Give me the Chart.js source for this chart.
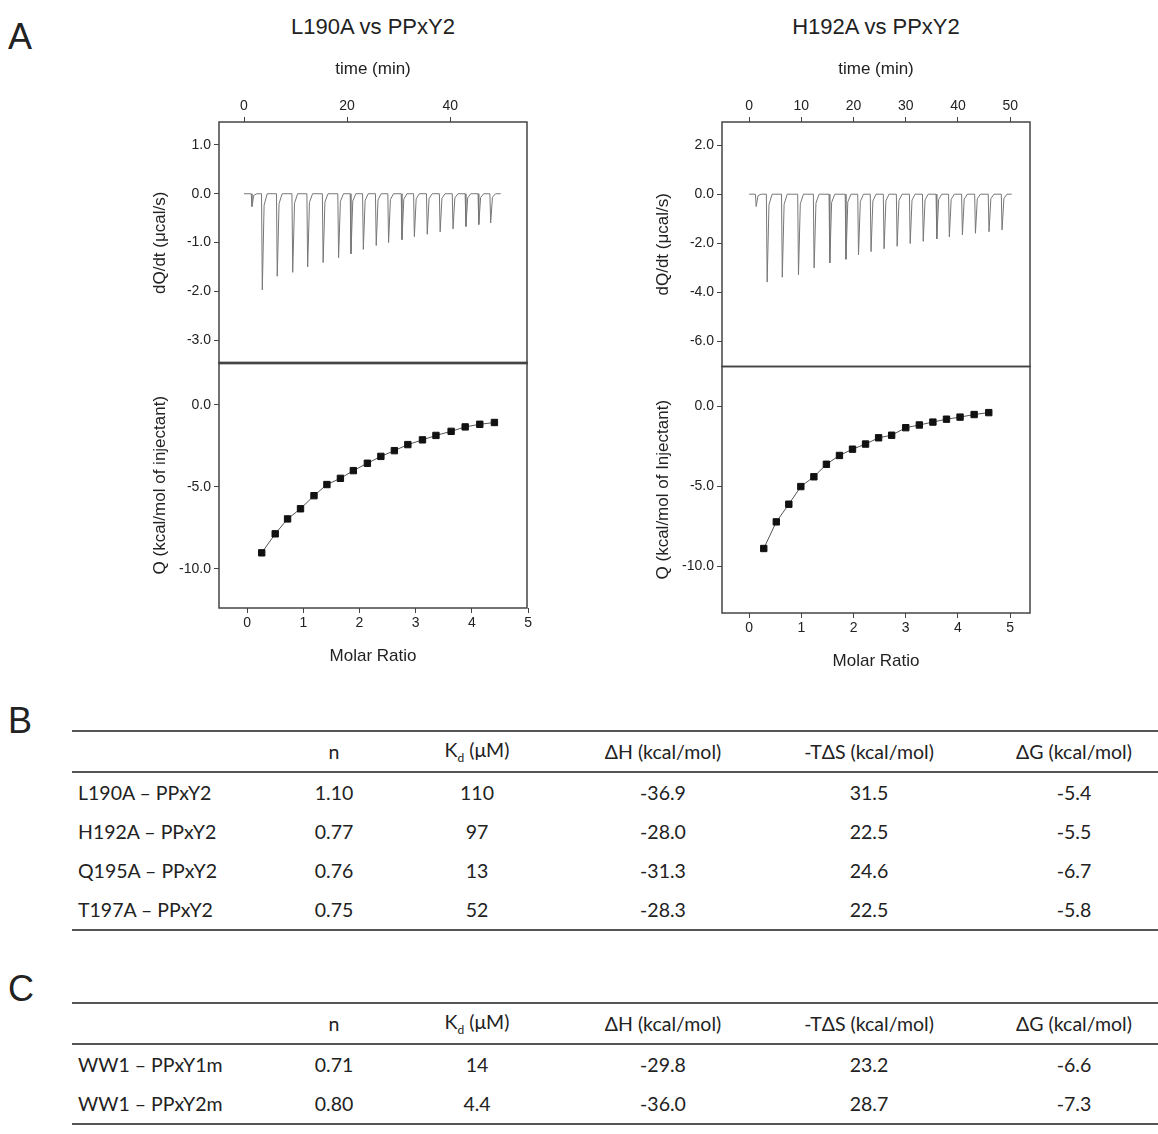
<!DOCTYPE html>
<html>
<head>
<meta charset="utf-8">
<script src="https://cdn.jsdelivr.net/npm/chart.js@4"></script>
<style>
  body { margin:0; width:1158px; height:1134px; background:#fff; position:relative; font-family:"Liberation Sans", Arial, sans-serif; color:#222; overflow:hidden; }
  .abs { position:absolute; }
  .letter { font-size:36px; }
  .ptitle { font-size:22px; width:400px; text-align:center; }
  table { position:absolute; left:72px; width:1086px; border-collapse:collapse; table-layout:fixed; font-family:Lato, "Open Sans", sans-serif; font-size:19.5px; color:#222; }
  td, th { font-weight:normal; height:39px; padding:0; text-align:center; }
  td:first-child, th:first-child { text-align:left; padding-left:6px; }
  thead tr { border-top:2px solid #555; border-bottom:2px solid #555; }
  tbody tr:last-child { border-bottom:2px solid #555; }
  sub { font-size:12px; }
</style>
</head>
<body>
<div class="abs letter" style="left:8px;top:16px">A</div>
<div class="abs letter" style="left:8px;top:700px">B</div>
<div class="abs letter" style="left:8px;top:968px">C</div>
<div class="abs ptitle" style="left:173px;top:14px">L190A vs PPxY2</div>
<div class="abs ptitle" style="left:676px;top:14px">H192A vs PPxY2</div>

<canvas id="lt" class="abs" style="left:150px;top:55px"></canvas>
<canvas id="lb" class="abs" style="left:150px;top:351px"></canvas>
<canvas id="rt" class="abs" style="left:653px;top:55px"></canvas>
<canvas id="rb" class="abs" style="left:653px;top:355px"></canvas>

<table id="tabB" style="top:730px"></table>
<table id="tabC" style="top:1002px"></table>

<script>
// --- panel A, L190A vs PPxY2
const l190Inject = [1.4, 3.4, 6.3, 9.3, 12.2, 15.2, 18.2, 20.6, 23.0, 25.5, 27.9, 30.5, 32.9, 35.4, 37.9, 40.4, 42.9, 45.4, 47.7];
const l190Peak = [-0.26, -1.97, -1.69, -1.61, -1.5, -1.41, -1.31, -1.23, -1.14, -1.06, -1.0, -0.94, -0.88, -0.83, -0.78, -0.72, -0.67, -0.63, -0.6];
const l190Ratio = [0.26, 0.50, 0.72, 0.95, 1.19, 1.42, 1.66, 1.89, 2.14, 2.38, 2.62, 2.86, 3.12, 3.36, 3.63, 3.88, 4.14, 4.40];
const l190Q = [-9.03, -7.87, -6.96, -6.34, -5.54, -4.86, -4.48, -4.01, -3.56, -3.14, -2.79, -2.42, -2.13, -1.86, -1.61, -1.34, -1.18, -1.07];
const l190TimeTicks = [0, 20, 40];
const l190RateTicks = [1, 0, -1, -2, -3];

// --- panel A, H192A vs PPxY2
const h192Inject = [1.2, 3.3, 6.2, 9.3, 12.3, 15.3, 18.4, 20.8, 23.2, 25.7, 28.2, 30.7, 33.2, 35.8, 38.2, 40.7, 43.2, 45.8, 48.3];
const h192Peak = [-0.5, -3.58, -3.38, -3.28, -3.0, -2.8, -2.65, -2.47, -2.34, -2.22, -2.12, -2.01, -1.92, -1.82, -1.74, -1.66, -1.59, -1.53, -1.45];
const h192Ratio = [0.28, 0.52, 0.76, 0.99, 1.24, 1.48, 1.73, 1.98, 2.23, 2.48, 2.73, 3.0, 3.26, 3.52, 3.78, 4.04, 4.31, 4.59];
const h192Q = [-8.88, -7.22, -6.12, -5.02, -4.41, -3.63, -3.08, -2.69, -2.37, -1.98, -1.82, -1.35, -1.18, -1.0, -0.82, -0.69, -0.53, -0.41];
const h192TimeTicks = [0, 10, 20, 30, 40, 50];
const h192RateTicks = [2, 0, -2, -4, -6];

const qTicks = [0, -5, -10];
const ratioTicks = [0, 1, 2, 3, 4, 5];

// --- tables B and C
const headers = ['', 'n', 'K<sub>d</sub> (μM)', 'ΔH (kcal/mol)', '-TΔS (kcal/mol)', 'ΔG (kcal/mol)'];
const rowsB = [
  ['L190A – PPxY2', '1.10', '110', '-36.9', '31.5', '-5.4'],
  ['H192A – PPxY2', '0.77', '97', '-28.0', '22.5', '-5.5'],
  ['Q195A – PPxY2', '0.76', '13', '-31.3', '24.6', '-6.7'],
  ['T197A – PPxY2', '0.75', '52', '-28.3', '22.5', '-5.8']
];
const rowsC = [
  ['WW1 – PPxY1m', '0.71', '14', '-29.8', '23.2', '-6.6'],
  ['WW1 – PPxY2m', '0.80', '4.4', '-36.0', '28.7', '-7.3']
];
const colWidths = [220, 84, 202, 170, 242, 168];

function fillTable(id, rows) {
  let h = '<colgroup>' + colWidths.map(w => '<col style="width:' + w + 'px">').join('') + '</colgroup>';
  h += '<thead><tr>' + headers.map(x => '<th>' + x + '</th>').join('') + '</tr></thead><tbody>';
  rows.forEach(r => { h += '<tr>' + r.map(x => '<td>' + x + '</td>').join('') + '</tr>'; });
  document.getElementById(id).innerHTML = h + '</tbody>';
}
fillTable('tabB', rowsB);
fillTable('tabC', rowsC);

// thermogram trace: baseline with a sharp dip at each injection
function trace(inject, peak, end) {
  let pts = [{x: 0, y: 0}];
  inject.forEach((t, i) => {
    pts.push({x: t, y: 0});
    pts.push({x: t + 0.15, y: peak[i]});
    pts.push({x: t + 0.5, y: peak[i] * 0.12});
    pts.push({x: t + 1.1, y: 0});
  });
  pts.push({x: end, y: 0});
  return pts;
}

const frame = {
  id: 'frame',
  afterDraw(c) {
    const a = c.chartArea, ctx = c.ctx;
    ctx.save();
    ctx.strokeStyle = '#444';
    ctx.lineWidth = 1.5;
    ctx.strokeRect(a.left, a.top, a.right - a.left, a.bottom - a.top);
    ctx.restore();
  }
};

Chart.defaults.font.family = '"Liberation Sans", Arial, sans-serif';
Chart.defaults.color = '#222';
Chart.defaults.animation = false;
Chart.defaults.responsive = false;
Chart.defaults.devicePixelRatio = 1;

function fixW(w) { return s => { s.width = w; }; }
function fixH(h) { return s => { s.height = h; }; }
function useTicks(vals) { return s => { s.ticks = vals.map(v => ({value: v})); }; }

function topChart(id, h, pts, ymin, ymax, yticks, tmin, tmax, tticks, ylabel) {
  const cv = document.getElementById(id);
  cv.width = 390; cv.height = h;
  new Chart(cv, {
    type: 'scatter',
    data: { datasets: [{ data: pts, showLine: true, pointRadius: 0, borderColor: '#777', borderWidth: 1, tension: 0 }] },
    options: {
      layout: { padding: { right: 13, bottom: 1, top: 0, left: 0 } },
      plugins: { legend: { display: false }, tooltip: { enabled: false } },
      scales: {
        x: { type: 'linear', position: 'top', min: tmin, max: tmax,
             ticks: { font: { size: 14 }, padding: 2 }, afterBuildTicks: useTicks(tticks),
             grid: { drawOnChartArea: false, tickLength: 5, color: '#444' }, border: { display: false },
             title: { display: true, text: 'time (min)', font: { size: 17 }, padding: { bottom: 4 } },
             afterFit: fixH(67) },
        y: { min: ymin, max: ymax,
             ticks: { font: { size: 14 }, callback: v => v.toFixed(1) }, afterBuildTicks: useTicks(yticks),
             grid: { drawOnChartArea: false, tickLength: 5, color: '#444' }, border: { display: false },
             title: { display: true, text: ylabel, font: { size: 17 }, padding: 0 },
             afterFit: fixW(69) }
      }
    },
    plugins: [frame]
  });
}

function botChart(id, h, xs, qs, ymin, ymax, xmin, xmax, ylabel) {
  const cv = document.getElementById(id);
  cv.width = 390; cv.height = h;
  new Chart(cv, {
    type: 'scatter',
    data: { datasets: [{ data: xs.map((x, i) => ({x: x, y: qs[i]})), showLine: true, pointStyle: 'rect',
            pointRadius: 4.5, backgroundColor: '#111', borderColor: '#555', borderWidth: 1, pointBorderColor: '#111', tension: 0 }] },
    options: {
      layout: { padding: { right: 13, top: 1, left: 0, bottom: 0 } },
      plugins: { legend: { display: false }, tooltip: { enabled: false } },
      scales: {
        x: { type: 'linear', min: xmin, max: xmax,
             ticks: { font: { size: 14 }, padding: 2 }, afterBuildTicks: useTicks(ratioTicks),
             grid: { drawOnChartArea: false, tickLength: 5, color: '#444' }, border: { display: false },
             title: { display: true, text: 'Molar Ratio', font: { size: 17 }, padding: { top: 8 } },
             afterFit: fixH(63) },
        y: { min: ymin, max: ymax,
             ticks: { font: { size: 14 }, callback: v => v.toFixed(1) }, afterBuildTicks: useTicks(qTicks),
             grid: { drawOnChartArea: false, tickLength: 5, color: '#444' }, border: { display: false },
             title: { display: true, text: ylabel, font: { size: 17 }, padding: 0 },
             afterFit: fixW(69) }
      }
    },
    plugins: [frame]
  });
}

topChart('lt', 320, trace(l190Inject, l190Peak, 49.8), -3.48, 1.47, l190RateTicks, -4.85, 54.9, l190TimeTicks, 'dQ/dt (μcal/s)');
topChart('rt', 323, trace(h192Inject, h192Peak, 50.3), -7.02, 2.94, h192RateTicks, -5.2, 53.8, h192TimeTicks, 'dQ/dt (μcal/s)');
botChart('lb', 320, l190Ratio, l190Q, -12.4, 2.6, -0.5, 4.98, 'Q (kcal/mol of injectant)');
botChart('rb', 321, h192Ratio, h192Q, -12.9, 2.47, -0.52, 5.38, 'Q (kcal/mol of Injectant)');
</script>
</body>
</html>
